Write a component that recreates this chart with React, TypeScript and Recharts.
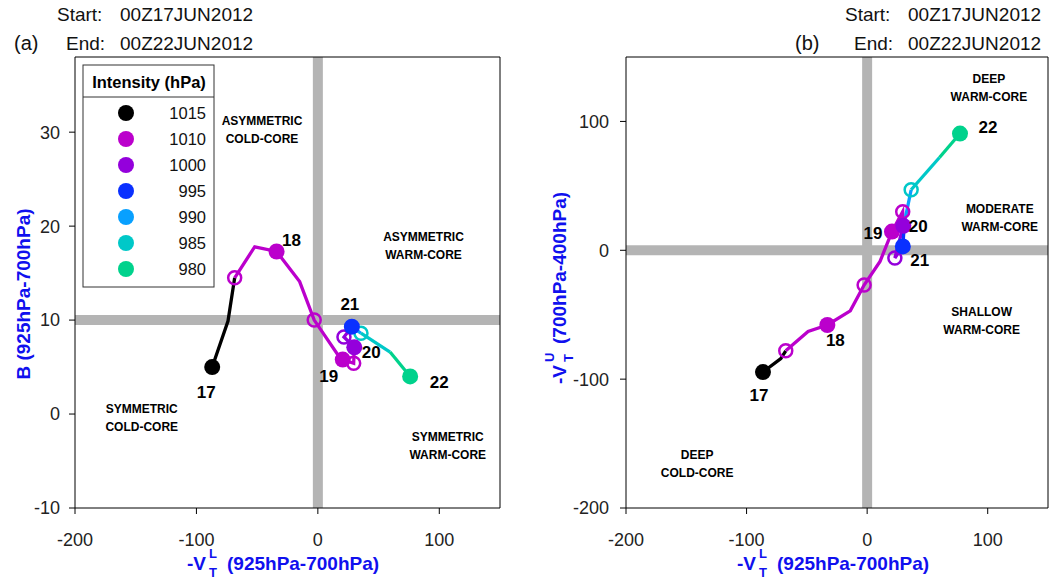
import { ScatterChart, Scatter, XAxis, YAxis, ReferenceLine } from 'recharts';

const FONT = '"Liberation Sans", Arial, Helvetica, sans-serif';
const BLUE = '#1010ee';
const GRAY = '#b4b4b4';

// 6-hourly track times (day of June 2012)
const HOURS = [17, 17.25, 17.5, 17.75, 18, 18.25, 18.5, 18.75, 19, 19.5, 20, 20.5, 21, 21.25, 21.5, 21.75, 22];
const INTENSITY = [1015, 1015, 1010, 1010, 1010, 1010, 1010, 1010, 1010, 1010, 1000, 1000, 995, 990, 985, 980, 980];

// panel (a): -VT_L vs B
const A_X = [-87, -74, -68.5, -52, -34, -15, -3, 16, 20.5, 29.5, 30, 21.5, 28, 31, 35.5, 59.5, 76];
const A_Y = [5, 9.9, 14.5, 17.8, 17.3, 14.1, 10, 6.4, 5.8, 5.4, 7.1, 8.2, 9.3, 9.0, 8.6, 6.6, 4.0];

// panel (b): -VT_L vs -VT_U
const B_X = [-86.4, -71.6, -67.5, -49, -33, -14, -2.5, 10.7, 20.6, 29.5, 30, 23, 29.6, 31, 36.5, 60, 77];
const B_Y = [-94.5, -84, -78, -63, -58, -47, -27, -8.6, 14.5, 30, 19, -6, 3, 22, 47, 72, 90.6];

const LEGEND_HPA = [1015, 1010, 1000, 995, 990, 985, 980];
const LEGEND_COLORS = ['#000000', '#bb00cc', '#9400dc', '#0a30ff', '#08a0ff', '#00c8c8', '#00d28c'];

const X_TICKS = [-200, -100, 0, 100];
const A_Y_TICKS = [-10, 0, 10, 20, 30];
const B_Y_TICKS = [-200, -100, 0, 100];

const REGIONS_A = [
  { x: -46, y: 30.2, lines: ['ASYMMETRIC', 'COLD-CORE'] },
  { x: 87, y: 17.9, lines: ['ASYMMETRIC', 'WARM-CORE'] },
  { x: -145, y: -0.4, lines: ['SYMMETRIC', 'COLD-CORE'] },
  { x: 107, y: -3.4, lines: ['SYMMETRIC', 'WARM-CORE'] },
];
const REGIONS_B = [
  { x: 101, y: 126, lines: ['DEEP', 'WARM-CORE'] },
  { x: 110, y: 25, lines: ['MODERATE', 'WARM-CORE'] },
  { x: 95, y: -55, lines: ['SHALLOW', 'WARM-CORE'] },
  { x: -141, y: -166, lines: ['DEEP', 'COLD-CORE'] },
];

// day-label offsets from the filled dot (pixels)
const DAY_OFFSET_A: Record<number, [number, number]> = {
  17: [-6, 25], 18: [15, -11], 19: [-14, 17], 20: [17, 5], 21: [-2, -22], 22: [29, 6],
};
const DAY_OFFSET_B: Record<number, [number, number]> = {
  17: [-4, 23], 18: [8, 15], 19: [-19, 2], 20: [15, 1], 21: [17, 14], 22: [28, -6],
};

const colorOf = (hpa: number) => LEGEND_COLORS[LEGEND_HPA.indexOf(hpa)];

const buildSegments = (xs: number[], ys: number[]) => {
  const segs: { color: string; data: { x: number; y: number }[] }[] = [];
  for (let i = 0; i < xs.length - 1; i++) {
    const color = colorOf(INTENSITY[i]);
    const last = segs[segs.length - 1];
    if (last && last.color === color) {
      last.data.push({ x: xs[i + 1], y: ys[i + 1] });
    } else {
      segs.push({ color, data: [{ x: xs[i], y: ys[i] }, { x: xs[i + 1], y: ys[i + 1] }] });
    }
  }
  return segs;
};

const buildMarkers = (xs: number[], ys: number[], frac: number) =>
  HOURS.map((h, i) => ({ x: xs[i], y: ys[i], day: Math.floor(h), color: colorOf(INTENSITY[i]), h }))
    .filter((p) => p.h % 1 === frac);

const Empty = () => <g />;

const OpenDot = (props: any) => (
  <circle cx={props.cx} cy={props.cy} r={6.5} fill="none" stroke={props.payload.color} strokeWidth={2.5} />
);

const makeFilled = (offsets: Record<number, [number, number]>) => (props: any) => {
  const { cx, cy, payload } = props;
  const [dx, dy] = offsets[payload.day] || [0, 0];
  return (
    <g>
      <circle cx={cx} cy={cy} r={8} fill={payload.color} />
      <text
        x={cx + dx}
        y={cy + dy}
        textAnchor="middle"
        dominantBaseline="central"
        fontFamily={FONT}
        fontWeight="bold"
        fontSize={17}
        fill="#000"
      >
        {payload.day}
      </text>
    </g>
  );
};

const RegionText = (props: any) => {
  const { cx, cy, payload } = props;
  return (
    <g>
      {payload.lines.map((t: string, i: number) => (
        <text
          key={t}
          x={cx}
          y={cy + (i - 0.5) * 18}
          textAnchor="middle"
          dominantBaseline="central"
          fontFamily={FONT}
          fontWeight="bold"
          fontSize={12}
          fill="#000"
        >
          {t}
        </text>
      ))}
    </g>
  );
};

const tickStyle = { fill: '#222', fontSize: 18, fontFamily: FONT };

interface PanelProps {
  xs: number[];
  ys: number[];
  yDomain: [number, number];
  yTicks: number[];
  crossY: number;
  regions: typeof REGIONS_A;
  offsets: Record<number, [number, number]>;
  margin: { top: number; right: number; bottom: number; left: number };
  yWidth: number;
  rightWidth: number;
  tickMarginY: number;
}

const Panel = ({ xs, ys, yDomain, yTicks, crossY, regions, offsets, margin, yWidth, rightWidth, tickMarginY }: PanelProps) => {
  const segs = buildSegments(xs, ys);
  const filled = buildMarkers(xs, ys, 0);
  const open = buildMarkers(xs, ys, 0.5);
  const Filled = makeFilled(offsets);
  return (
    <ScatterChart width={520} height={581} margin={margin}>
      <XAxis
        type="number"
        dataKey="x"
        domain={[-200, 150]}
        ticks={X_TICKS}
        allowDataOverflow
        height={73}
        tickSize={6}
        tickMargin={19}
        stroke="#000"
        tick={tickStyle}
      />
      <XAxis
        xAxisId="top"
        orientation="top"
        type="number"
        domain={[-200, 150]}
        ticks={X_TICKS}
        allowDataOverflow
        height={8}
        tickSize={6}
        tick={false}
        stroke="#000"
      />
      <YAxis
        type="number"
        dataKey="y"
        domain={yDomain}
        ticks={yTicks}
        allowDataOverflow
        width={yWidth}
        tickSize={6}
        tickMargin={tickMarginY}
        stroke="#000"
        tick={tickStyle}
      />
      <YAxis
        yAxisId="right"
        orientation="right"
        type="number"
        domain={yDomain}
        ticks={yTicks}
        allowDataOverflow
        width={rightWidth}
        tickSize={6}
        tick={false}
        stroke="#000"
      />
      <ReferenceLine x={0} stroke={GRAY} strokeWidth={10} />
      <ReferenceLine y={crossY} stroke={GRAY} strokeWidth={10} />
      <Scatter data={regions} shape={RegionText} isAnimationActive={false} />
      {segs.map((s, i) => (
        <Scatter
          key={i}
          data={s.data}
          line={{ stroke: s.color, strokeWidth: 3.3 }}
          shape={Empty}
          isAnimationActive={false}
        />
      ))}
      <Scatter data={open} shape={OpenDot} isAnimationActive={false} />
      <Scatter data={filled} shape={Filled} isAnimationActive={false} />
    </ScatterChart>
  );
};

const Header = ({ x0, tag, tagX }: { x0: number; tag: string; tagX: number }) => (
  <g fontFamily={FONT} fontSize={19} fill="#111">
    <text x={x0} y={21}>Start:</text>
    <text x={x0 + 63} y={21}>00Z17JUN2012</text>
    <text x={x0 + 9} y={50}>End:</text>
    <text x={x0 + 63} y={50}>00Z22JUN2012</text>
    <text x={tagX} y={50} fontSize={20}>{tag}</text>
  </g>
);

const XTitle = ({ x0, sup }: { x0: number; sup: string }) => (
  <g fontFamily={FONT} fontWeight="bold" fill={BLUE}>
    <text x={x0} y={570} fontSize={19}>-V</text>
    <text x={x0 + 22} y={558} fontSize={13}>{sup}</text>
    <text x={x0 + 22} y={577} fontSize={13}>T</text>
    <text x={x0 + 40} y={570} fontSize={19}>(925hPa-700hPa)</text>
  </g>
);

const Legend = () => {
  const rowY = [113, 139, 165, 191, 217, 243, 269];
  return (
    <g fontFamily={FONT}>
      <rect x={83} y={65} width={131} height={222} fill="#fff" stroke="#333" strokeWidth={1} />
      <line x1={83} x2={214} y1={97} y2={97} stroke="#333" strokeWidth={1} />
      <text x={149} y={88} textAnchor="middle" fontWeight="bold" fontSize={16.5} fill="#000">
        Intensity (hPa)
      </text>
      {LEGEND_HPA.map((h, i) => (
        <g key={h}>
          <circle cx={126} cy={rowY[i]} r={8} fill={LEGEND_COLORS[i]} />
          <text x={206} y={rowY[i] + 6} textAnchor="end" fontSize={16.5} fill="#111">
            {h}
          </text>
        </g>
      ))}
    </g>
  );
};

export default function App() {
  return (
    <div style={{ position: 'absolute', left: 0, top: 0, width: 1050, height: 581, background: '#fff' }}>
      <div style={{ position: 'absolute', left: 0, top: 0 }}>
        <Panel
          xs={A_X}
          ys={A_Y}
          yDomain={[-10, 38]}
          yTicks={A_Y_TICKS}
          crossY={10}
          regions={REGIONS_A}
          offsets={DAY_OFFSET_A}
          margin={{ top: 49, right: 12, bottom: 0, left: 15 }}
          yWidth={60}
          rightWidth={8}
          tickMarginY={9}
        />
      </div>
      <div style={{ position: 'absolute', left: 530, top: 0 }}>
        <Panel
          xs={B_X}
          ys={B_Y}
          yDomain={[-200, 150]}
          yTicks={B_Y_TICKS}
          crossY={0}
          regions={REGIONS_B}
          offsets={DAY_OFFSET_B}
          margin={{ top: 49, right: 0, bottom: 0, left: 26 }}
          yWidth={70}
          rightWidth={2}
          tickMarginY={11}
        />
      </div>
      <svg
        width={1050}
        height={581}
        style={{ position: 'absolute', left: 0, top: 0, pointerEvents: 'none' }}
      >
        <Header x0={57} tag="(a)" tagX={14} />
        <Header x0={845} tag="(b)" tagX={795} />
        <XTitle x0={187} sup="L" />
        <XTitle x0={737} sup="L" />
        <text
          transform="translate(30,294) rotate(-90)"
          textAnchor="middle"
          fontFamily={FONT}
          fontWeight="bold"
          fontSize={19}
          fill={BLUE}
        >
          B (925hPa-700hPa)
        </text>
        <g transform="translate(566,384) rotate(-90)" fontFamily={FONT} fontWeight="bold" fill={BLUE}>
          <text x={0} y={0} fontSize={19}>-V</text>
          <text x={22} y={-12} fontSize={13}>U</text>
          <text x={22} y={7} fontSize={13}>T</text>
          <text x={40} y={0} fontSize={19}>(700hPa-400hPa)</text>
        </g>
        <Legend />
      </svg>
    </div>
  );
}
